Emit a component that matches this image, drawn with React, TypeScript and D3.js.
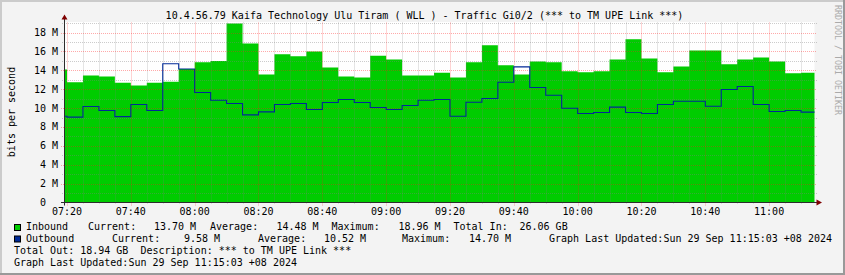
import React from "react";
import * as d3 from "d3";

// 5-minute step start times (rrdtool samples)
const stepTimes = [
  "07:15", "07:20", "07:25", "07:30", "07:35", "07:40", "07:45", "07:50", "07:55",
  "08:00", "08:05", "08:10", "08:15", "08:20", "08:25", "08:30", "08:35", "08:40", "08:45", "08:50", "08:55",
  "09:00", "09:05", "09:10", "09:15", "09:20", "09:25", "09:30", "09:35", "09:40", "09:45", "09:50", "09:55",
  "10:00", "10:05", "10:10", "10:15", "10:20", "10:25", "10:30", "10:35", "10:40", "10:45", "10:50", "10:55",
  "11:00", "11:05", "11:10",
];
const stepEnd = "11:15";

// Inbound traffic, Mbit/s
const inboundMbps = [
  14.1, 12.75, 13.45, 13.35, 12.7, 12.4, 12.7, 12.8, 14.15,
  14.85, 15.0, 18.96, 16.85, 13.55, 15.7, 15.5, 16.0, 14.3, 13.35, 13.25, 15.55,
  15.15, 13.45, 13.45, 13.75, 13.25, 14.85, 16.65, 14.55, 13.55, 14.95, 14.85, 13.9,
  13.8, 13.9, 15.15, 17.3, 15.25, 13.8, 14.4, 16.1, 16.1, 14.65, 15.15, 15.35,
  14.95, 13.7, 13.75,
];

// Outbound traffic, Mbit/s
const outboundMbps = [
  9.14, 9.04, 10.17, 9.75, 9.1, 10.38, 9.75, 14.7, 14.15,
  11.65, 10.84, 10.49, 9.28, 9.6, 10.38, 10.49, 9.85, 10.59, 10.91, 10.59, 10.06,
  9.85, 10.27, 10.84, 10.91, 9.14, 10.62, 11.02, 12.74, 14.37, 12.18, 11.37, 9.98,
  9.43, 9.53, 10.1, 9.53, 9.43, 10.38, 10.72, 10.72, 10.2, 11.97, 12.29, 10.38,
  9.64, 9.75, 9.58,
];

const xTickLabels = ["07:20", "07:40", "08:00", "08:20", "08:40", "09:00", "09:20", "09:40", "10:00", "10:20", "10:40", "11:00"];
const yTickValues = [0, 2, 4, 6, 8, 10, 12, 14, 16, 18];
const yTickLabels = ["0", "2 M", "4 M", "6 M", "8 M", "10 M", "12 M", "14 M", "16 M", "18 M"];
const yMinorValues = [1, 3, 5, 7, 9, 11, 13, 15, 17, 19];

const title = "10.4.56.79 Kaifa Technology Ulu Tiram ( WLL ) - Traffic Gi0/2 (*** to TM UPE Link ***)";
const yTitle = "bits per second";
const watermark = "RRDTOOL / TOBI OETIKER";

const inboundLegend = ["Inbound", "Current:", "13.70 M", "Average:", "14.48 M", "Maximum:", "18.96 M", "Total In:", "26.06 GB"];
const outboundLegend = ["Outbound", "Current:", "9.58 M", "Average:", "10.52 M", "Maximum:", "14.70 M", "Graph Last Updated:Sun 29 Sep 11:15:03 +08 2024"];
const footLines = [
  "Total Out: 18.94 GB  Description: *** to TM UPE Link ***",
  "Graph Last Updated:Sun 29 Sep 11:15:03 +08 2024",
];

const W = 845;
const H = 275;
const FONT = "'DejaVu Sans Mono', monospace";
const IN_COLOR = "#00CC00";
const OUT_COLOR = "#002A97";

const at = (hm: string, s = 0) => {
  const [h, m] = hm.split(":").map(Number);
  return new Date(2024, 8, 29, h, m, s);
};

export default function App() {
  const left = 64.5, right = 814.5, top = 22.5, bottom = 202.5;
  const x = d3.scaleTime().domain([at("07:19", 13), at("11:14", 13)]).range([left, right]);
  const y = d3.scaleLinear().domain([0, 19.07]).range([bottom, top]);

  const mk = (vals: number[]) => {
    const pts = stepTimes.map((t, i) => ({ t: at(t), v: vals[i] }));
    pts.push({ t: at(stepEnd), v: vals[vals.length - 1] });
    return pts;
  };
  const inPts = mk(inboundMbps);
  const outPts = mk(outboundMbps);

  const area = d3.area<{ t: Date; v: number }>()
    .x(d => x(d.t)).y0(bottom).y1(d => y(d.v)).curve(d3.curveStepAfter);
  const line = d3.line<{ t: Date; v: number }>()
    .x(d => x(d.t)).y(d => y(d.v)).curve(d3.curveStepAfter);

  const majorTimes = xTickLabels.map(l => at(l));
  const minorTimes = d3.timeMinute.every(5)!.range(x.domain()[0], x.domain()[1])
    .filter(t => t.getMinutes() % 20 !== 0);

  const minorStroke = "rgba(128,128,128,0.4)";
  const majorStroke = "rgba(255,30,30,0.38)";

  const l1x = [26, 88, 154, 210, 276.5, 331.5, 398.5, 453.5, 519.5];
  const l2x = [26, 112, 184, 258, 324, 402, 469, 549];

  return (
    <svg width={W} height={H} style={{ position: "absolute", left: 0, top: 0 }} fontFamily={FONT}>
      <defs>
        <clipPath id="plotClip">
          <rect x={left} y={top - 1} width={right - left} height={bottom - top + 1} />
        </clipPath>
      </defs>
      <rect x={0} y={0} width={W} height={H} fill="#F3F3F3" />
      <rect x={0} y={0} width={W} height={2} fill="#CBCBCB" />
      <rect x={0} y={0} width={2} height={H} fill="#CBCBCB" />
      <rect x={W - 2} y={0} width={2} height={H} fill="#999999" />
      <rect x={0} y={H - 2} width={W} height={2} fill="#999999" />

      <rect x={left} y={top - 0.5} width={right - left} height={bottom - top + 0.5} fill="#FFFFFF" />

      <g clipPath="url(#plotClip)">
        <path d={area(inPts) || ""} fill={IN_COLOR} />
      </g>

      {/* grid */}
      {minorTimes.map((t, i) => (
        <line key={"vm" + i} x1={Math.round(x(t)) + 0.5} x2={Math.round(x(t)) + 0.5} y1={top} y2={bottom + 2}
          stroke={minorStroke} strokeDasharray="1,1" />
      ))}
      {yMinorValues.map((v, i) => (
        <line key={"hm" + i} x1={62} x2={817} y1={Math.round(y(v)) + 0.5} y2={Math.round(y(v)) + 0.5}
          stroke={minorStroke} strokeDasharray="1,1" />
      ))}
      {majorTimes.map((t, i) => (
        <line key={"vM" + i} x1={Math.round(x(t)) + 0.5} x2={Math.round(x(t)) + 0.5} y1={top} y2={bottom + 3}
          stroke={majorStroke} strokeDasharray="1,1" />
      ))}
      {yTickValues.filter(v => v > 0).map((v, i) => (
        <line key={"hM" + i} x1={61} x2={817} y1={Math.round(y(v)) + 0.5} y2={Math.round(y(v)) + 0.5}
          stroke={majorStroke} strokeDasharray="1,1" />
      ))}

      <g clipPath="url(#plotClip)">
        <path d={line(outPts) || ""} fill="none" stroke={OUT_COLOR} strokeWidth={1.1} />
      </g>

      {/* axes */}
      <line x1={61} x2={818} y1={bottom} y2={bottom} stroke="#2C2C2C" strokeWidth={1} />
      <line x1={left} x2={left} y1={18} y2={bottom + 3} stroke="#2C2C2C" strokeWidth={1} />
      <path d={`M${left - 3},${19.5} L${left + 3},${19.5} L${left},${14.5} Z`} fill="#7F0000" />
      <path d={`M${816.5},${bottom - 3} L${816.5},${bottom + 3} L${822},${bottom} Z`} fill="#7F0000" />

      {/* y labels */}
      {yTickValues.map((v, i) => (
        <text key={"yl" + i} x={yTickLabels[i].includes("M") ? 58 : 46} y={y(v) + 3.5} fontSize={10}
          textAnchor="end" fill="#000">{yTickLabels[i]}</text>
      ))}
      {/* x labels */}
      {majorTimes.map((t, i) => (
        <text key={"xl" + i} x={x(t)} y={214.5} fontSize={10} textAnchor="middle" fill="#000">{xTickLabels[i]}</text>
      ))}

      <text x={424.5} y={18.5} fontSize={10} textAnchor="middle" fill="#000" style={{ whiteSpace: "pre" }}>{title}</text>
      <text transform={`translate(14.5,112) rotate(-90)`} fontSize={10} textAnchor="middle" fill="#000">{yTitle}</text>
      <text transform={`translate(835,5) rotate(90)`} fontSize={8.3} fill="#AAAAAA">{watermark}</text>

      {/* legend */}
      <rect x={14.5} y={224.5} width={6} height={6} fill={IN_COLOR} stroke="#000" strokeWidth={1} />
      <rect x={14.5} y={236} width={6} height={6} fill={OUT_COLOR} stroke="#000" strokeWidth={1} />
      {inboundLegend.map((s, i) => (
        <text key={"l1" + i} x={l1x[i]} y={230} fontSize={10} fill="#000">{s}</text>
      ))}
      {outboundLegend.map((s, i) => (
        <text key={"l2" + i} x={l2x[i]} y={242} fontSize={10} fill="#000">{s}</text>
      ))}
      {footLines.map((s, i) => (
        <text key={"f" + i} x={14} y={254 + i * 11.5} fontSize={10} fill="#000" style={{ whiteSpace: "pre" }}>{s}</text>
      ))}
    </svg>
  );
}
